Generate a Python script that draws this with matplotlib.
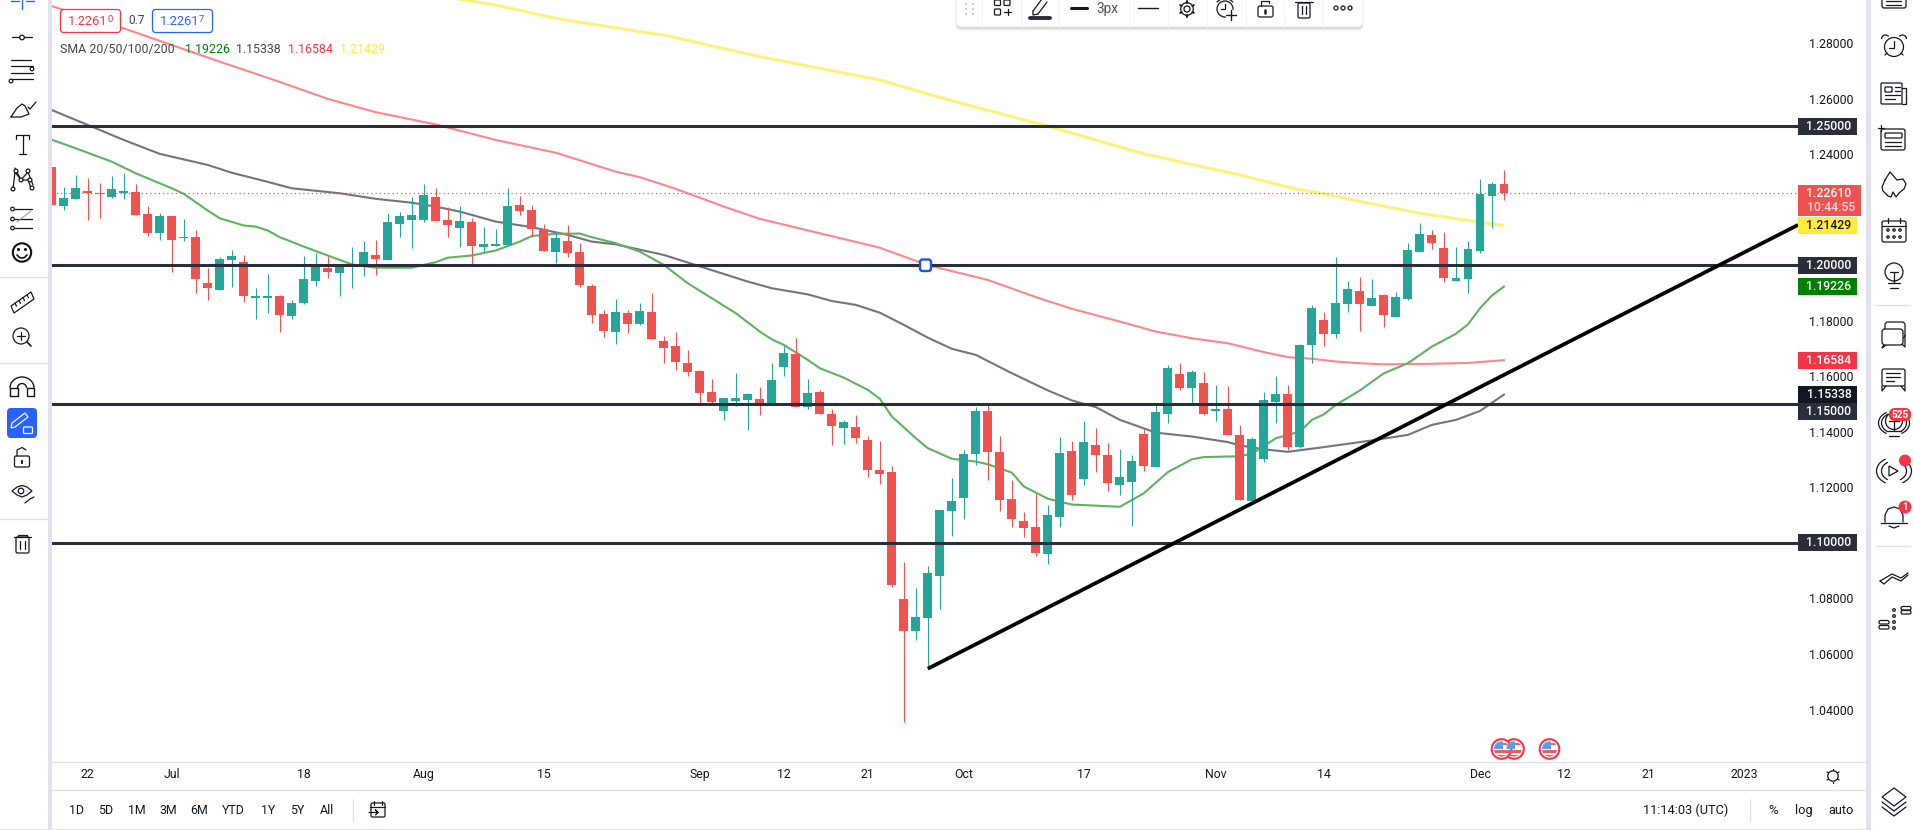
import matplotlib
matplotlib.use("Agg")
import matplotlib.pyplot as plt
from matplotlib.patches import Arc, Circle, FancyBboxPatch, Polygon, Rectangle

plt.rcParams["font.family"] = ["Roboto", "DejaVu Sans"]

# daily candles
opens = [1.2354, 1.2213, 1.2239, 1.2267, 1.2260, 1.2246, 1.2260, 1.2264, 1.2185, 1.2116,
         1.2177, 1.2098, 1.2102, 1.1936, 1.1911, 1.2019, 1.2012, 1.1882, 1.1882, 1.1889,
         1.1817, 1.1864, 1.1943, 1.1990, 1.1972, 1.1996, 1.1997, 1.2037, 1.2019, 1.2149,
         1.2163, 1.2163, 1.2246, 1.2163, 1.2134, 1.2156, 1.2066, 1.2069, 1.2073, 1.2217,
         1.2199, 1.2131, 1.2048, 1.2087, 1.2048, 1.1925, 1.1825, 1.1760, 1.1828, 1.1789,
         1.1832, 1.1727, 1.1709, 1.1648, 1.1619, 1.1544, 1.1475, 1.1511, 1.1515, 1.1519,
         1.1497, 1.1634, 1.1681, 1.1490, 1.1544, 1.1465, 1.1414, 1.1418, 1.1371, 1.1263,
         1.1256, 1.0799, 1.0683, 1.0730, 1.0881, 1.1115, 1.1162, 1.1321, 1.1475, 1.1328,
         1.1159, 1.1079, 1.1058, 1.0961, 1.1094, 1.1331, 1.1231, 1.1353, 1.1317, 1.1209,
         1.1220, 1.1393, 1.1274, 1.1465, 1.1609, 1.1558, 1.1576, 1.1475, 1.1483, 1.1389,
         1.1151, 1.1303, 1.1508, 1.1537, 1.1346, 1.1713, 1.1803, 1.1753, 1.1861, 1.1907,
         1.1853, 1.1893, 1.1814, 1.1879, 1.2048, 1.2109, 1.2062, 1.1943, 1.1951, 1.2051,
         1.2249, 1.2293]
highs = [1.2354, 1.2282, 1.2325, 1.2314, 1.2296, 1.2321, 1.2332, 1.2293, 1.2213, 1.2188,
         1.2177, 1.2167, 1.2127, 1.1990, 1.2030, 1.2055, 1.2037, 1.1918, 1.1969, 1.1893,
         1.1875, 1.2033, 1.2044, 1.2033, 1.1997, 1.2066, 1.2087, 1.2091, 1.2188, 1.2192,
         1.2246, 1.2293, 1.2278, 1.2210, 1.2213, 1.2170, 1.2138, 1.2131, 1.2278, 1.2249,
         1.2217, 1.2149, 1.2120, 1.2145, 1.2080, 1.1933, 1.1839, 1.1879, 1.1839, 1.1864,
         1.1900, 1.1745, 1.1760, 1.1695, 1.1623, 1.1591, 1.1522, 1.1612, 1.1540, 1.1562,
         1.1648, 1.1709, 1.1738, 1.1591, 1.1551, 1.1483, 1.1443, 1.1461, 1.1385, 1.1367,
         1.1277, 1.0932, 1.0838, 1.0917, 1.1119, 1.1234, 1.1335, 1.1490, 1.1497, 1.1385,
         1.1227, 1.1112, 1.1180, 1.1137, 1.1382, 1.1367, 1.1439, 1.1414, 1.1360, 1.1339,
         1.1317, 1.1411, 1.1501, 1.1641, 1.1648, 1.1623, 1.1616, 1.1569, 1.1565, 1.1425,
         1.1382, 1.1544, 1.1601, 1.1569, 1.1717, 1.1857, 1.1832, 1.2030, 1.1943, 1.1958,
         1.1951, 1.1897, 1.1904, 1.2080, 1.2152, 1.2127, 1.2120, 1.2066, 1.2087, 1.2311,
         1.2300, 1.2343]
lows = [1.2215, 1.2199, 1.2239, 1.2163, 1.2170, 1.2243, 1.2239, 1.2181, 1.2105, 1.2091,
        1.1976, 1.2087, 1.1900, 1.1875, 1.1911, 1.1922, 1.1868, 1.1807, 1.1828, 1.1760,
        1.1807, 1.1861, 1.1925, 1.1954, 1.1889, 1.1918, 1.1961, 1.1965, 1.2019, 1.2102,
        1.2062, 1.2156, 1.2159, 1.2102, 1.2066, 1.2005, 1.2048, 1.2069, 1.2069, 1.2181,
        1.2102, 1.2051, 1.2008, 1.2030, 1.1922, 1.1792, 1.1742, 1.1717, 1.1756, 1.1785,
        1.1735, 1.1648, 1.1623, 1.1601, 1.1501, 1.1497, 1.1443, 1.1493, 1.1407, 1.1461,
        1.1497, 1.1601, 1.1490, 1.1483, 1.1465, 1.1353, 1.1357, 1.1360, 1.1238, 1.1213,
        1.0842, 1.0356, 1.0651, 1.0547, 1.0763, 1.1025, 1.1087, 1.1281, 1.1227, 1.1115,
        1.1058, 1.1022, 1.0953, 1.0925, 1.1058, 1.1155, 1.1209, 1.1256, 1.1187, 1.1173,
        1.1061, 1.1259, 1.1274, 1.1432, 1.1551, 1.1503, 1.1461, 1.1439, 1.1389, 1.1155,
        1.1151, 1.1292, 1.1432, 1.1335, 1.1342, 1.1648, 1.1709, 1.1738, 1.1832, 1.1763,
        1.1853, 1.1778, 1.1814, 1.1875, 1.2048, 1.2059, 1.1940, 1.1943, 1.1900, 1.2044,
        1.2134, 1.2235]
closes = [1.2215, 1.2242, 1.2278, 1.2260, 1.2258, 1.2275, 1.2267, 1.2181, 1.2116, 1.2177,
          1.2091, 1.2102, 1.1951, 1.1918, 1.2023, 1.2033, 1.1889, 1.1889, 1.1889, 1.1821,
          1.1864, 1.1951, 1.1994, 1.1976, 1.1994, 1.2001, 1.2048, 1.2023, 1.2156, 1.2177,
          1.2181, 1.2253, 1.2159, 1.2145, 1.2159, 1.2069, 1.2077, 1.2077, 1.2213, 1.2195,
          1.2131, 1.2051, 1.2098, 1.2044, 1.1929, 1.1821, 1.1763, 1.1832, 1.1789, 1.1835,
          1.1735, 1.1702, 1.1652, 1.1616, 1.1540, 1.1508, 1.1522, 1.1522, 1.1537, 1.1501,
          1.1587, 1.1684, 1.1490, 1.1540, 1.1465, 1.1421, 1.1436, 1.1378, 1.1263, 1.1249,
          1.0849, 1.0683, 1.0734, 1.0892, 1.1119, 1.1151, 1.1321, 1.1475, 1.1328, 1.1155,
          1.1087, 1.1054, 1.0964, 1.1101, 1.1324, 1.1173, 1.1364, 1.1317, 1.1216, 1.1238,
          1.1295, 1.1277, 1.1472, 1.1630, 1.1558, 1.1616, 1.1465, 1.1483, 1.1389, 1.1155,
          1.1375, 1.1515, 1.1537, 1.1346, 1.1713, 1.1846, 1.1753, 1.1864, 1.1915, 1.1861,
          1.1882, 1.1821, 1.1886, 1.2055, 1.2113, 1.2080, 1.1954, 1.1954, 1.2059, 1.2258,
          1.2293, 1.2261]

# moving averages, read at these candle numbers
sma20_idx = [0, 2, 5, 7, 10, 11, 13, 14, 16, 17, 18, 19, 21, 23, 25, 27, 30, 32, 33, 35, 37, 39, 40,
             42, 44, 45, 47, 49, 51, 53, 57, 59, 60, 61, 63, 64, 66, 68, 69, 70, 72, 73, 75, 77, 78,
             80, 81, 83, 85, 89, 91, 93, 95, 96, 99, 100, 102, 104, 105, 106, 107, 109, 111, 113,
             115, 117, 118, 119, 120, 121]
sma20 = [1.2452, 1.2421, 1.2373, 1.2331, 1.2277, 1.2257, 1.2197, 1.2169, 1.2143, 1.2139, 1.2125,
         1.2101, 1.2067, 1.2035, 1.2003, 1.1991, 1.1991, 1.2011, 1.2027, 1.2035, 1.2053, 1.2085,
         1.2105, 1.2113, 1.2114, 1.2101, 1.2079, 1.2049, 1.2001, 1.1935, 1.1827, 1.1761, 1.1733,
         1.1713, 1.1659, 1.1629, 1.1595, 1.1551, 1.1519, 1.1455, 1.1377, 1.1341, 1.1303, 1.1293,
         1.1283, 1.1253, 1.1203, 1.1159, 1.1138, 1.1130, 1.1179, 1.1255, 1.1301, 1.1309, 1.1312,
         1.1321, 1.1377, 1.1401, 1.1443, 1.1463, 1.1497, 1.1549, 1.1611, 1.1647, 1.1707, 1.1753,
         1.1787, 1.1845, 1.1891, 1.1923]
sma50_idx = [0, 3, 6, 9, 13, 15, 18, 20, 24, 27, 30, 32, 34, 37, 40, 43, 45, 47, 51, 58, 60, 63, 65,
             67, 69, 71, 73, 75, 77, 80, 83, 85, 87, 89, 92, 95, 98, 99, 101, 103, 106, 110, 113,
             115, 117, 119, 121]
sma50 = [1.2559, 1.2505, 1.2451, 1.2401, 1.2361, 1.2333, 1.2300, 1.2277, 1.2259, 1.2239, 1.2225,
         1.2211, 1.2193, 1.2157, 1.2137, 1.2109, 1.2085, 1.2075, 1.2037, 1.1941, 1.1917, 1.1895,
         1.1871, 1.1857, 1.1829, 1.1785, 1.1739, 1.1699, 1.1677, 1.1611, 1.1549, 1.1513, 1.1489,
         1.1443, 1.1397, 1.1383, 1.1363, 1.1351, 1.1337, 1.1328, 1.1345, 1.1369, 1.1389, 1.1425,
         1.1443, 1.1475, 1.1534]
sma100_idx = [0, 6, 10, 14, 19, 23, 27, 32, 37, 42, 47, 49, 52, 56, 59, 64, 69, 73, 78, 82, 85, 89,
              92, 95, 98, 101, 103, 105, 107, 109, 111, 115, 118, 121]
sma100 = [1.2933, 1.2853, 1.2793, 1.2733, 1.2660, 1.2599, 1.2551, 1.2507, 1.2451, 1.2405, 1.2337,
          1.2317, 1.2275, 1.2211, 1.2167, 1.2115, 1.2063, 1.2000, 1.1947, 1.1885, 1.1843, 1.1797,
          1.1761, 1.1737, 1.1719, 1.1687, 1.1669, 1.1663, 1.1653, 1.1647, 1.1643, 1.1645, 1.1648,
          1.1658]
sma200_idx = [30, 37, 42, 49, 51, 59, 69, 75, 83, 91, 99, 103, 106, 110, 114, 118, 121]
sma200 = [1.2985, 1.2937, 1.2889, 1.2841, 1.2829, 1.2751, 1.2667, 1.2592, 1.2501, 1.2401, 1.2325,
          1.2281, 1.2257, 1.2221, 1.2187, 1.2161, 1.2143]

levels = [1.25, 1.20, 1.15, 1.10]
trend_idx = [73, 145.5]
trend_val = [1.0547, 1.2145]
last_price = 1.2261

y_ticks = [1.04, 1.06, 1.08, 1.12, 1.14, 1.16, 1.18, 1.24, 1.26, 1.28]
x_tick_idx = [3, 10, 21, 31, 41, 54, 61, 68, 76, 86, 97, 106, 119, 126, 133, 141]
x_tick_labels = ["22", "Jul", "18", "Aug", "15", "Sep", "12", "21", "Oct", "17", "Nov", "14", "Dec",
                 "12", "21", "2023"]

W, H = 1913, 830
TXT = "#131722"
LAV = "#e0e3eb"
UP = "#26a69a"
DOWN = "#ef5350"

fig = plt.figure(figsize=(W / 100, H / 100), dpi=100, facecolor="white")
ax = fig.add_axes([52 / W, (H - 762) / H, (1798 - 52) / W, 762 / H])
ax.set_xlim(0.025, 145.5)
ax.set_ylim(1.0211, 1.2955)
for s in ax.spines.values():
    s.set_visible(False)

# MAs sit behind the candles
ax.plot(sma200_idx, sma200, color="#fff27a", lw=2.2, zorder=2, solid_capstyle="butt")
ax.plot(sma100_idx, sma100, color="#ff858d", lw=1.5, zorder=2)
ax.plot(sma50_idx, sma50, color="#74747d", lw=1.5, zorder=2)
ax.plot(sma20_idx, sma20, color="#5fb162", lw=1.5, zorder=2)

for i in range(len(opens)):
    col = UP if closes[i] >= opens[i] else DOWN
    ax.vlines(i, lows[i], highs[i], color=col, lw=0.8, zorder=3)
    ax.bar(i, abs(closes[i] - opens[i]), bottom=min(opens[i], closes[i]), width=0.74,
           color=col, lw=0, zorder=3)

ax.axhline(last_price, color="#ef5350", lw=0.9, ls=(0, (1, 2.4)), zorder=4)
for lv in levels:
    ax.axhline(lv, color="#2a2e39", lw=2.2, zorder=5)
ax.plot(trend_idx, trend_val, color="black", lw=2.7, zorder=6, solid_capstyle="butt")

ax.yaxis.tick_right()
ax.set_yticks(y_ticks, [f"{v:.5f}" for v in y_ticks])
ax.set_xticks(x_tick_idx, x_tick_labels)
ax.tick_params(axis="both", length=0, labelsize=8.8, labelcolor=TXT)
ax.tick_params(axis="y", pad=8)
ax.tick_params(axis="x", pad=4.5)

# everything of the app around the chart, in pixels
ui = fig.add_axes([0, 0, 1, 1], facecolor="none")
ui.set_xlim(0, W)
ui.set_ylim(H, 0)
ui.axis("off")


def ln(xs, ys, c=TXT, lw=0.9):
    ui.plot(xs, ys, color=c, lw=lw, solid_capstyle="round")


def arc(x, y, w, h, t1, t2, c=TXT, lw=0.9, z=5):
    ui.add_patch(Arc((x, y), w, h, theta1=t1, theta2=t2, color=c, lw=lw, zorder=z))


def circ(x, y, r, fc="none", ec=TXT, lw=0.9, z=5):
    p = Circle((x, y), r, fc=fc, ec=ec, lw=lw, zorder=z)
    ui.add_patch(p)
    return p


def rbox(x, y, w, h, r=2, fc="none", ec=TXT, lw=0.9, z=5, alpha=None):
    p = FancyBboxPatch((x, y), w, h, boxstyle=f"round,pad=0,rounding_size={r}", fc=fc, ec=ec,
                       lw=lw, zorder=z, alpha=alpha)
    ui.add_patch(p)
    return p


def txt(x, y, s, c=TXT, size=8.8, ha="center", weight="normal"):
    ui.text(x, y, s, color=c, fontsize=size, ha=ha, va="center", fontweight=weight, zorder=8)


def price_y(p):
    return ui.transData.inverted().transform(ax.transData.transform((0, p)))[1]


def price_tag(p, label, bg, fg="white", dy=0, w=59):
    y = price_y(p) + dy
    ui.add_patch(Rectangle((1798, y - 8.5), w, 17, fc=bg, ec="none", zorder=6))
    txt(1829, y, label, c=fg, weight="medium")


# frame
ui.add_patch(Rectangle((0, 0), 48, H, fc="white", ec="none", zorder=1))
ui.add_patch(Rectangle((48, 0), 4, H, fc=LAV, ec="none", zorder=1))
ui.add_patch(Rectangle((1866, 0), 5, H, fc=LAV, ec="none", zorder=1))
ui.add_patch(Rectangle((0, 828.5), W - 42, 2, fc=LAV, ec="none", zorder=1))
ln([52, 1866], [762, 762], c=LAV, lw=1)
ln([52, 1866], [790, 790], c=LAV, lw=1)

# price tags on the axis
price_tag(1.25, "1.25000", "#2a2e39")
price_tag(1.20, "1.20000", "#2a2e39")
price_tag(1.19226, "1.19226", "#008000")
price_tag(1.16584, "1.16584", "#f23645")
price_tag(1.15338, "1.15338", "#131722")
price_tag(1.15, "1.15000", "#2a2e39", dy=7)
price_tag(1.10, "1.10000", "#2a2e39")
price_tag(1.21429, "1.21429", "#ffeb3b", fg=TXT)
ui.add_patch(Rectangle((1798, 185), 63, 31, fc="#ef5350", ec="none", zorder=6))
txt(1829, 193.5, "1.22610", c="white", weight="medium")
txt(1831, 207.5, "10:44:55", c="#ffd9d8", weight="medium")

# trend line handle
rbox(920, 259.5, 11, 11.5, r=2.5, fc="white", ec="#1e53e5", lw=1.7, z=7)

# legend top left
rbox(60.5, 9.5, 60, 23, r=3, fc="white", ec="#f23645", lw=0.9)
txt(68, 21.5, "1.2261", c="#f23645", ha="left", size=9.3)
txt(107, 19, "0", c="#f23645", ha="left", size=6.8)
txt(136.5, 21, "0.7", c="#434651", size=8.6)
rbox(152.5, 9.5, 60, 23, r=3, fc="white", ec="#2962ff", lw=0.9)
txt(160, 21.5, "1.2261", c="#2962ff", ha="left", size=9.3)
txt(199, 19, "7", c="#2962ff", ha="left", size=6.8)
txt(60.5, 49.5, "SMA 20/50/100/200", c="#434651", ha="left", size=8.9)
txt(184.7, 49.5, "1.19226", c="#008000", ha="left", size=8.9)
txt(236.4, 49.5, "1.15338", c="#434651", ha="left", size=8.9)
txt(288, 49.5, "1.16584", c="#f23645", ha="left", size=8.9)
txt(339.6, 49.5, "1.21429", c="#ffe93b", ha="left", size=8.9)

# floating toolbar
for i, a in zip((3.5, 2.5, 1.5), (0.08, 0.12, 0.18)):
    rbox(956, -12, 407, 39 + i, r=5, fc="#787b86", ec="none", z=6, alpha=a)
rbox(956, -12, 407, 39, r=5, fc="white", ec="#e6e7ee", lw=0.6, z=6)
for x in [981.7, 1020.7, 1059.3, 1128.7, 1167.7, 1206.7, 1245.7, 1284.3, 1323.3]:
    ui.plot([x, x], [0, 27], color="#f0f3fa", lw=0.8, zorder=7)
for gx in (965, 972):
    for gy in (3, 8, 13):
        ui.add_patch(Rectangle((gx, gy), 1.6, 1.6, fc="#c8cad1", ec="none", zorder=7))


def tool(xs, ys, c=TXT, lw=0.9):
    ui.plot(xs, ys, color=c, lw=lw, zorder=7, solid_capstyle="round")


rbox(994.5, 0, 6, 5.5, r=1, z=7)
rbox(1004, 0, 6, 5.5, r=1, z=7)
rbox(994.5, 9, 6, 6, r=1, z=7)
tool([1004, 1011], [12, 12])
tool([1007.5, 1007.5], [9, 15.5])
tool([1033, 1042], [11, -1])
tool([1038, 1047], [14, 2])
tool([1033, 1033, 1038], [11, 15, 14])
tool([1030, 1050], [18, 18], c="#2a2e39", lw=2.8)
tool([1071, 1087], [8, 8], lw=2.2)
txt(1107, 9, "3px", c="#50535e", size=9.8)
tool([1138, 1158], [8, 8], lw=1)
circ(1187, 9, 3, ec=TXT, z=7)
circ(1187, 9, 6.3, ec=TXT, z=7)
for dx, dy in ((0, 7.8), (0, -7.8), (6.8, 3.9), (-6.8, 3.9), (6.8, -3.9), (-6.8, -3.9)):
    tool([1187 + dx * 0.8, 1187 + dx], [9 + dy * 0.8, 9 + dy], lw=1.4)
circ(1225, 9, 8, ec=TXT, z=7)
tool([1225, 1225, 1221], [4, 9, 9])
tool([1217, 1221], [2, -1])
tool([1233, 1229], [2, -1])
circ(1231, 15, 5.5, fc="white", ec="none", z=7)
tool([1226, 1236], [15, 15], lw=1)
tool([1231, 1231], [10, 20], lw=1)
rbox(1258, 6, 15, 11, r=2, fc="white", z=7)
tool([1261, 1261, 1269, 1269], [6, 1, 1, 3])
tool([1265, 1265], [10.5, 13], lw=1.8)
rbox(1298, 3, 12, 15, r=1.5, fc="white", z=7)
tool([1295, 1313], [2, 2])
tool([1302, 1302], [6, 14])
tool([1306, 1306], [6, 14])
for x in (1336, 1343, 1350):
    circ(x, 8, 2, ec="#2a2e39", lw=1, z=7)

# events
for ex in (1514, 1501.5, 1549.5):
    circ(ex, 749, 9.8, fc="white", ec="#f23645", lw=1.5, z=5)
    clip = Circle((ex, 749), 7.6, transform=ui.transData)
    top = Rectangle((ex - 8, 741), 9, 8, fc="#5a9ee8", ec="none", zorder=6)
    red0 = Rectangle((ex + 1, 742.5), 7, 2.4, fc="#f05a5f", ec="none", zorder=6)
    red = Rectangle((ex - 8, 750), 16, 2.6, fc="#f05a5f", ec="none", zorder=6)
    low = Rectangle((ex - 8, 755), 16, 2.2, fc="#f05a5f", ec="none", zorder=6)
    for p in (top, red0, red, low):
        ui.add_patch(p)
        p.set_clip_path(clip)

# gear on the time axis
circ(1833, 776, 5.2, ec=TXT)
for dx, dy in ((0, 7), (0, -7), (6, 4), (-6, 4), (6, -4), (-6, -4)):
    ln([1833 + dx * 0.8, 1833 + dx], [776 + dy * 0.8, 776 + dy])

# bottom bar
for x, s in zip([76, 106, 137, 168, 199, 233, 268.5, 297.6, 327],
                ["1D", "5D", "1M", "3M", "6M", "YTD", "1Y", "5Y", "All"]):
    txt(x, 810, s, size=8.9)
ln([353, 353], [799, 821], c=LAV, lw=1)
rbox(371, 803, 14, 14, r=1.5)
ln([370, 385], [806.5, 806.5])
ln([374, 374], [801, 805])
ln([382, 382], [801, 805])
ln([369, 378, 375.5, 378, 375.5], [812.5, 812.5, 810, 812.5, 815])
txt(1686, 810, "11:14:03 (UTC)", size=9.2)
ln([1749.7, 1749.7], [799, 821], c=LAV, lw=1)
txt(1773, 810, "%", size=9.6)
txt(1804, 810, "log", size=9.2)
txt(1841, 810, "auto", size=9.2)

# left tool bar
cx = 22
ln([cx, cx], [0, 9], c="#2962ff", lw=1)
ln([11, 19], [0.8, 0.8], c="#2962ff", lw=1)
ln([26, 34], [0.8, 0.8], c="#2962ff", lw=1)
ln([12, 32], [37.5, 37.5])
circ(cx, 37.5, 2.3, fc="white")
for yy, x1, x2 in ((60, 11, 31), (66, 11, 33), (73, 11, 33), (79, 11, 33)):
    ln([x1, x2], [yy, yy])
circ(32, 69, 1.8, fc="white")
circ(11, 81, 1.8, fc="white")
ln([11, 17, 22, 25, 29, 21, 15, 11], [117, 108, 104, 106, 114, 117, 117, 117])
ln([28, 30, 36], [107, 109, 102])
ln([16, 29], [135, 135])
ln([16, 16], [135, 139])
ln([29, 29], [135, 139])
ln([22.5, 22.5], [135, 154])
ln([19, 26], [154, 154])
ln([15, 21, 28, 33], [168, 180, 172, 185])
ln([13, 15, 21, 28, 31], [189, 172, 180, 180, 188])
for nx, ny in ((16, 171), (28, 171), (21, 180), (30, 180), (13, 189), (32, 188)):
    circ(nx, ny, 1.9, fc="white")
for yy in (209, 219, 228):
    ln([11, 32], [yy, yy])
    circ(12.5, yy, 1.8, fc="white")
ln([17, 31], [222, 211], c="#8b8e98", lw=0.7)
circ(cx, 252.5, 9.2, ec="#111111", lw=1.5)
circ(18.5, 249.5, 0.9, fc="#111111", ec="#111111")
circ(25.5, 249.5, 0.9, fc="#111111", ec="#111111")
ln([17, 19.5, 22, 24.5, 27], [255, 257.5, 258, 257.5, 255], c="#111111", lw=1.2)
for yy in (277, 363, 519):
    ln([0, 48], [yy, yy], c=LAV, lw=1)
ui.add_patch(Polygon([(11, 306), (31, 292), (34, 299), (14, 313)], fc="none", ec=TXT, lw=0.9, zorder=5))
for t in (0.2, 0.4, 0.6, 0.8):
    ln([11 + 20 * t, 12.5 + 20 * t], [306 - 14 * t, 309 - 14 * t])
circ(21, 336, 8, ec=TXT)
ln([17, 25], [336, 336])
ln([21, 21], [332, 340])
ln([27, 31], [342, 346], lw=1.2)
# magnet
arc(22, 388, 24, 22, 180, 360, lw=1)
arc(22, 388, 9, 9, 180, 360, lw=1)
ln([10, 10, 17.5, 17.5, 10], [388, 396, 396, 388, 388], lw=1)
ln([26.5, 26.5, 34, 34, 26.5], [388, 396, 396, 388, 388], lw=1)
rbox(7, 408, 30, 30, r=4, fc="#2962ff", ec="none")
ui.add_patch(Polygon([(12, 423), (25, 413), (28, 417), (15, 427), (11, 428)], fc="none", ec="white", lw=0.9, zorder=6))
rbox(23.5, 427, 9, 6.5, r=1, ec="white", fc="#2962ff", z=6)
ln([25.5, 25.5, 30.5, 30.5], [427, 423.5, 423.5, 427], c="white")
rbox(14.5, 456, 15, 11, r=1.5)
ln([17, 17, 22, 26], [456, 450, 447.5, 450])
ln([22, 22], [461, 462.5], lw=1.5)
ui.add_patch(Polygon([(12, 491), (17, 487), (22, 485.5), (27, 487), (32, 491), (27, 495), (22, 497), (17, 495)],
                     fc="none", ec=TXT, lw=0.9, zorder=5))
circ(21, 491, 2.8)
ln([25, 30, 34], [503, 499, 497])
ln([14, 31], [537, 537])
rbox(16, 537, 13, 16, r=1.5)
ln([18, 18, 27, 27], [537, 535, 535, 537])
ln([20, 20], [541, 549])
ln([25, 25], [541, 549])

# right tool bar
rx = 1894
rbox(1882, -10, 24, 18, r=2)
ln([1886, 1901], [1, 1])
ln([1886, 1901], [5, 5])
circ(rx, 47, 9.5)
ln([rx, rx, rx - 5], [41, 48, 48])
arc(1885.5, 39, 8, 8, 180, 320)
arc(1902.5, 39, 8, 8, 220, 360)
ln([1885, 1887], [55, 53])
ln([1903, 1901], [55, 53])
rbox(1881, 83, 21, 21, r=1)
ln([1902, 1906, 1906, 1902], [88, 88, 104, 104])
rbox(1885, 87, 7, 5, r=0.5)
ln([1895, 1900], [87, 87])
ln([1895, 1900], [91, 91])
ln([1885, 1900], [95, 95])
ln([1885, 1895], [99, 99])
rbox(1881, 129, 24, 21, r=2)
rbox(1885, 133, 17, 5, r=1)
ln([1885, 1901], [142, 142])
ln([1885, 1901], [146, 146])
ln([1878, 1884], [128, 128])
ln([1881, 1881], [125, 131])
ln([1885, 1882, 1883, 1888, 1891, 1893, 1896, 1899, 1904, 1906, 1903, 1897, 1890, 1885],
   [180, 187, 191, 196, 197, 192, 197, 193, 189, 184, 179, 180, 172, 180])
rbox(1882, 221, 24, 21, r=2)
ln([1882, 1906], [226, 226])
ln([1888, 1888], [218, 223])
ln([1900, 1900], [218, 223])
for xx in (1888, 1894, 1900):
    for yy in (230, 237):
        circ(xx, yy, 1.2)
circ(rx, 272, 9)
ln([1890, 1898], [272, 272])
ln([rx, rx], [272, 283])
ln([1888, 1900], [283, 283])
ln([1890, 1898], [288, 288])
ln([1876, 1910], [305, 305], c=LAV, lw=1)
rbox(1885, 322, 20, 16, r=3)
rbox(1882, 329, 21, 16, r=3, fc="white")
ln([1884, 1882, 1886], [345, 348, 345])
ln([1905, 1905, 1902], [335, 347, 344])
rbox(1882, 369, 23, 17, r=2)
ln([1886, 1900], [373, 373])
ln([1886, 1900], [377, 377])
ln([1886, 1894], [381, 381])
ln([1882, 1882, 1886], [386, 391, 386])
ln([1905, 1905, 1901], [386, 391, 386])
circ(rx, 421, 8.5)
ln([1889, 1899], [421, 421])
ln([rx, rx], [421, 431])
ln([1887, 1901], [431, 431])
ln([1889, 1899], [436, 436])
arc(rx, 423, 25, 20, 125, 235)
arc(rx, 423, 31, 24, 125, 235)
arc(rx, 423, 25, 20, -55, 55)
arc(rx, 423, 31, 24, -55, 55)
rbox(1889, 408, 22, 13, r=6, fc="#f23645", ec="none", z=6)
txt(1900, 414.5, "525", c="white", size=7.2, weight="bold")
ui.add_patch(Polygon([(1889, 466), (1898, 471), (1889, 476)], fc="none", ec=TXT, lw=0.9, zorder=5))
arc(rx, 471, 25, 20, 125, 235)
arc(rx, 471, 35, 27, 125, 235)
arc(rx, 471, 25, 20, -55, 55)
arc(rx, 471, 35, 27, -55, 55)
circ(1905, 460.5, 6, fc="#f23645", ec="none", z=6)
ln([1885, 1885, 1888, 1894, 1900, 1903, 1903], [522, 515, 509, 507, 509, 515, 522])
ln([1881, 1907], [523, 523])
ln([1889, 1894, 1899], [526, 528, 526])
circ(1905, 507, 6.5, fc="#f23645", ec="none", z=6)
txt(1905, 507, "1", c="white", size=7, weight="bold")
ln([1876, 1910], [546, 546], c=LAV, lw=1)
ln([1880, 1892, 1901, 1908], [581, 574, 578, 573])
ln([1880, 1884, 1892, 1901, 1908], [581, 584, 577, 581, 575])
for xx, yy in ((1884, 627), (1884, 622), (1906, 612), (1906, 608)):
    rbox(xx - 5, yy - 1.5, 10, 3.5, r=1.6)
for xx, yy in ((1894, 610), (1894, 616), (1894, 622), (1894, 628)):
    circ(xx, yy, 1.3)
ui.add_patch(Polygon([(1894, 788), (1906, 797), (1894, 806), (1882, 797)], fc="none", ec=TXT, lw=0.9, zorder=5))
ln([1882, 1894, 1906], [802, 811, 802])
ln([1882, 1894, 1906], [807, 816, 807])

fig.savefig("out.png", dpi=100, facecolor="white")
